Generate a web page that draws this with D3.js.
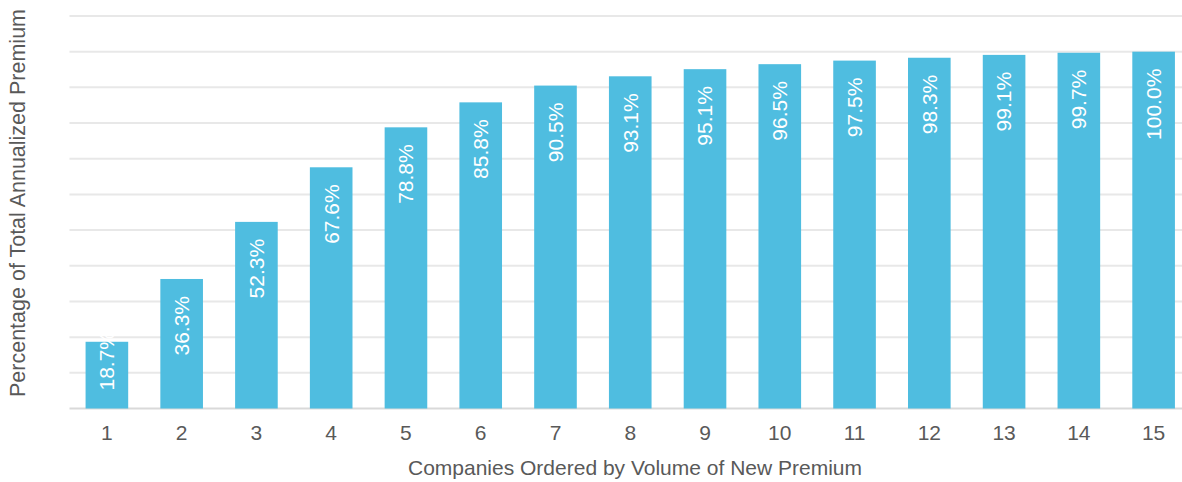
<!DOCTYPE html>
<html>
<head>
<meta charset="utf-8">
<script src="https://cdn.jsdelivr.net/npm/d3@7"></script>
<style>
  body { margin: 0; background: #fff; }
  svg { display: block; font-family: "Liberation Sans", Arial, sans-serif; }
</style>
</head>
<body>
<svg id="chart" width="1182" height="482"></svg>
<script>
var categories = ["1","2","3","4","5","6","7","8","9","10","11","12","13","14","15"];
var values = [18.7, 36.3, 52.3, 67.6, 78.8, 85.8, 90.5, 93.1, 95.1, 96.5, 97.5, 98.3, 99.1, 99.7, 100.0];
var gridTicks = [0,10,20,30,40,50,60,70,80,90,100,110];

var svg = d3.select("#chart"),
    plotLeft = 69.5, plotRight = 1191, plotTop = 16, plotBottom = 408.5;

var x = d3.scaleBand()
    .domain(categories)
    .range([plotLeft, plotRight])
    .paddingInner(0.43)
    .paddingOuter(0.215);
var y = d3.scaleLinear()
    .domain([0, 110])
    .range([plotBottom, plotTop]);

// gridlines
svg.append("g").selectAll("line")
    .data(gridTicks)
    .enter().append("line")
    .attr("x1", plotLeft).attr("x2", 1182)
    .attr("y1", function(d) { return y(d); })
    .attr("y2", function(d) { return y(d); })
    .attr("stroke", function(d) { return d === 0 ? "#d9d9d9" : "#e8e8e8"; })
    .attr("stroke-width", 2);

// bars
svg.append("g").selectAll("rect")
    .data(values)
    .enter().append("rect")
    .attr("x", function(d, i) { return x(categories[i]); })
    .attr("width", x.bandwidth())
    .attr("y", function(d) { return y(d); })
    .attr("height", function(d) { return y(0) - y(d); })
    .attr("fill", "#4FBDE0");

// labels inside bars, rotated
var labels = svg.append("g").selectAll("text")
    .data(values)
    .enter().append("text")
    .attr("fill", "#fff")
    .attr("font-size", 21)
    .attr("text-anchor", "end")
    .attr("dy", "0.35em")
    .text(function(d) { return d.toFixed(1) + "%"; });
labels.attr("transform", function(d, i) {
    var len = this.getComputedTextLength();
    var yTop = Math.min(y(d) + 17, plotBottom - 18 - len);
    var cx = x(categories[i]) + x.bandwidth() / 2;
    return "translate(" + cx + "," + yTop + ") rotate(-90)";
});

// x axis labels
var xAxis = svg.append("g")
    .attr("transform", "translate(0," + plotBottom + ")")
    .call(d3.axisBottom(x).tickSize(0).tickPadding(17));
xAxis.select(".domain").remove();
xAxis.selectAll("text")
    .attr("font-size", 21)
    .attr("font-family", "Liberation Sans, Arial, sans-serif")
    .attr("fill", "#595959");

// axis titles
svg.append("text")
    .attr("x", 635).attr("y", 475)
    .attr("text-anchor", "middle")
    .attr("font-size", 21)
    .attr("fill", "#595959")
    .text("Companies Ordered by Volume of New Premium");

svg.append("text")
    .attr("transform", "translate(25,203) rotate(-90)")
    .attr("text-anchor", "middle")
    .attr("font-size", 21.5)
    .attr("fill", "#595959")
    .text("Percentage of Total Annualized Premium");
</script>
</body>
</html>
